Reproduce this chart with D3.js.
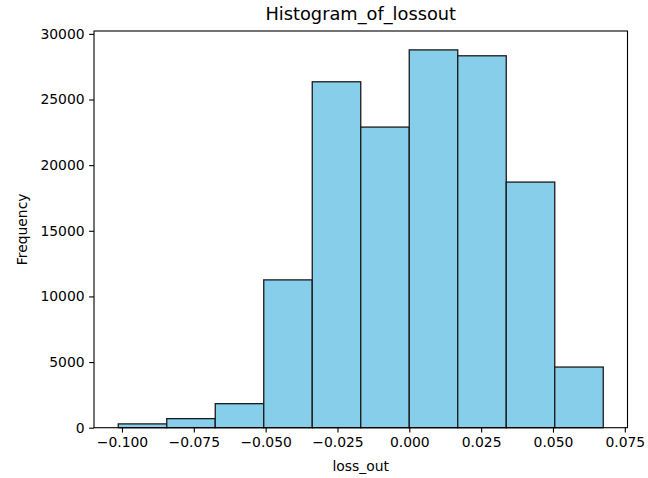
<!DOCTYPE html>
<html>
<head>
<meta charset="utf-8">
<script src="https://cdn.jsdelivr.net/npm/d3@7"></script>
<style>
  html, body { margin: 0; padding: 0; background: #fff; }
  svg { display: block; font-family: "DejaVu Sans", sans-serif; }
</style>
</head>
<body>
<svg id="chart" width="648" height="478"></svg>
<script>
// Histogram bins of loss_out: ten equal-width bins
const binStart = -0.1013;
const binEnd = 0.0675;
const binCount = 10;
const frequencies = [290, 690, 1830, 11260, 26350, 22900, 28780, 28330, 18710, 4620];
const xTicks = [-0.100, -0.075, -0.050, -0.025, 0.000, 0.025, 0.050, 0.075];
const yTicks = [0, 5000, 10000, 15000, 20000, 25000, 30000];

const binWidth = (binEnd - binStart) / binCount;
const bins = frequencies.map((f, i) => ({
  x0: binStart + i * binWidth,
  x1: binStart + (i + 1) * binWidth,
  count: f
}));

const svg = d3.select("#chart");
const plot = { left: 94, right: 627.5, top: 31, bottom: 427.7 };

// matplotlib-style 5% margins on x, 5% headroom on y
const span = binEnd - binStart;
const x = d3.scaleLinear()
  .domain([binStart - 0.05 * span, binEnd + 0.05 * span])
  .range([plot.left, plot.right]);
const y = d3.scaleLinear()
  .domain([0, d3.max(frequencies) * 1.05])
  .range([plot.bottom, plot.top]);

// bars
svg.append("g")
  .selectAll("rect")
  .data(bins)
  .join("rect")
  .attr("x", d => x(d.x0))
  .attr("y", d => y(d.count))
  .attr("width", d => x(d.x1) - x(d.x0))
  .attr("height", d => y(0) - y(d.count))
  .attr("fill", "#87ceeb")
  .attr("stroke", "#1a1a1a")
  .attr("stroke-width", 1.3);

const tickFmt = d3.format(".3f");
const minus = s => s.replace("-", "\u2212");

// x axis
const xAxis = svg.append("g")
  .attr("transform", `translate(0,${plot.bottom})`)
  .call(d3.axisBottom(x).tickValues(xTicks).tickFormat(d => minus(tickFmt(d)))
    .tickSizeInner(4.9).tickSizeOuter(0).tickPadding(4.5));
xAxis.select(".domain").remove();
xAxis.selectAll(".tick line").attr("stroke", "#000").attr("stroke-width", 1.1);
xAxis.selectAll(".tick text").attr("fill", "#000").attr("font-size", "13.9px")
  .attr("font-family", "DejaVu Sans");

// y axis
const yAxis = svg.append("g")
  .attr("transform", `translate(${plot.left},0)`)
  .call(d3.axisLeft(y).tickValues(yTicks).tickFormat(d3.format("d"))
    .tickSizeInner(4.9).tickSizeOuter(0).tickPadding(4.5));
yAxis.select(".domain").remove();
yAxis.selectAll(".tick line").attr("stroke", "#000").attr("stroke-width", 1.1);
yAxis.selectAll(".tick text").attr("fill", "#000").attr("font-size", "13.9px")
  .attr("font-family", "DejaVu Sans");

// frame
svg.append("rect")
  .attr("x", plot.left).attr("y", plot.top)
  .attr("width", plot.right - plot.left).attr("height", plot.bottom - plot.top)
  .attr("fill", "none").attr("stroke", "#000").attr("stroke-width", 1.1);

// title and axis labels
svg.append("text")
  .attr("x", (plot.left + plot.right) / 2).attr("y", 20)
  .attr("text-anchor", "middle").attr("font-size", "17.8px").attr("fill", "#000")
  .text("Histogram_of_lossout");

svg.append("text")
  .attr("x", (plot.left + plot.right) / 2).attr("y", 471)
  .attr("text-anchor", "middle").attr("font-size", "13.9px").attr("fill", "#000")
  .text("loss_out");

svg.append("text")
  .attr("transform", `translate(27,${(plot.top + plot.bottom) / 2}) rotate(-90)`)
  .attr("text-anchor", "middle").attr("font-size", "13.9px").attr("fill", "#000")
  .text("Frequency");
</script>
</body>
</html>
